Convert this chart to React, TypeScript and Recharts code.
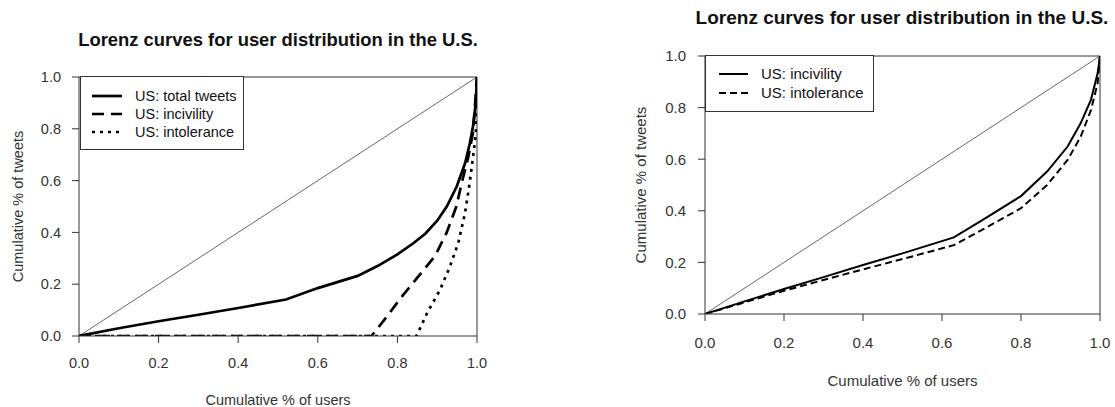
import React from 'react';
import { LineChart, Line, XAxis, YAxis, ReferenceLine, Legend } from 'recharts';

// ---------- data ----------
const tickValues = [0, 0.2, 0.4, 0.6, 0.8, 1.0];
const equalityLine = [
  { x: 0, y: 0 },
  { x: 1, y: 1 },
];

const chartTitle = 'Lorenz curves for user distribution in the U.S.';
const xAxisTitle = 'Cumulative % of users';
const yAxisTitle = 'Cumulative % of tweets';

// left panel
const leftTotalTweets = [
  { x: 0, y: 0 }, { x: 0.1, y: 0.03 }, { x: 0.2, y: 0.057 }, { x: 0.3, y: 0.082 },
  { x: 0.4, y: 0.108 }, { x: 0.52, y: 0.141 }, { x: 0.6, y: 0.185 }, { x: 0.7, y: 0.232 },
  { x: 0.75, y: 0.27 }, { x: 0.8, y: 0.315 }, { x: 0.84, y: 0.358 }, { x: 0.87, y: 0.395 },
  { x: 0.9, y: 0.445 }, { x: 0.924, y: 0.5 }, { x: 0.949, y: 0.577 }, { x: 0.97, y: 0.667 },
  { x: 0.982, y: 0.744 }, { x: 0.99, y: 0.81 }, { x: 0.997, y: 0.9 }, { x: 1, y: 1 },
];
const leftIncivility = [
  { x: 0, y: 0 }, { x: 0.735, y: 0 }, { x: 0.77, y: 0.068 }, { x: 0.81, y: 0.15 },
  { x: 0.85, y: 0.225 }, { x: 0.895, y: 0.31 }, { x: 0.924, y: 0.4 }, { x: 0.948, y: 0.5 },
  { x: 0.963, y: 0.6 }, { x: 0.978, y: 0.69 }, { x: 0.99, y: 0.785 }, { x: 1, y: 1 },
];
const leftIntolerance = [
  { x: 0, y: 0 }, { x: 0.848, y: 0 }, { x: 0.875, y: 0.09 }, { x: 0.907, y: 0.178 },
  { x: 0.932, y: 0.268 }, { x: 0.953, y: 0.36 }, { x: 0.97, y: 0.475 }, { x: 0.981, y: 0.585 },
  { x: 0.99, y: 0.69 }, { x: 0.997, y: 0.78 }, { x: 1, y: 1 },
];

// right panel
const rightIncivility = [
  { x: 0, y: 0 }, { x: 0.1, y: 0.049 }, { x: 0.2, y: 0.097 }, { x: 0.3, y: 0.143 },
  { x: 0.4, y: 0.19 }, { x: 0.5, y: 0.235 }, { x: 0.63, y: 0.297 }, { x: 0.7, y: 0.362 },
  { x: 0.8, y: 0.457 }, { x: 0.866, y: 0.552 }, { x: 0.918, y: 0.649 },
  { x: 0.951, y: 0.739 }, { x: 0.977, y: 0.83 }, { x: 0.994, y: 0.933 }, { x: 1, y: 1 },
];
const rightIntolerance = [
  { x: 0, y: 0 }, { x: 0.1, y: 0.045 }, { x: 0.2, y: 0.09 }, { x: 0.3, y: 0.132 },
  { x: 0.4, y: 0.173 }, { x: 0.5, y: 0.213 }, { x: 0.63, y: 0.267 }, { x: 0.7, y: 0.325 },
  { x: 0.8, y: 0.41 }, { x: 0.866, y: 0.5 }, { x: 0.918, y: 0.597 },
  { x: 0.951, y: 0.687 }, { x: 0.977, y: 0.79 }, { x: 0.994, y: 0.894 }, { x: 1, y: 1 },
];

const FONT = '"Liberation Sans", Arial, Helvetica, sans-serif';
const AXIS = '#333';

type Series = { name: string; data: { x: number; y: number }[]; width: number; dash?: string };

type PanelProps = {
  left: number;
  width: number;
  height: number;
  plotLeft: number;
  plotTop: number;
  plotRight: number;
  plotBottom: number;
  series: Series[];
  fontSize: number;
  xTickMargin: number;
  yTickMargin: number;
  xTitleOffset: number;
  yTitleOffset: number;
  legend: {
    left: number; top: number; width: number; height: number;
    padTop: number; padLeft: number; rowH: number; sampleW: number; gap: number;
  };
};

const LegendBox = ({ series, cfg, fontSize }: { series: Series[]; cfg: PanelProps['legend']; fontSize: number }) => (
  <div
    style={{
      border: `1px solid ${AXIS}`,
      background: '#fff',
      width: cfg.width,
      height: cfg.height,
      boxSizing: 'border-box',
      paddingTop: cfg.padTop,
      paddingLeft: cfg.padLeft,
      fontFamily: FONT,
      fontSize,
      color: '#111',
    }}
  >
    {series.map((s) => (
      <div key={s.name} style={{ display: 'flex', alignItems: 'center', height: cfg.rowH, whiteSpace: 'nowrap' }}>
        <svg width={cfg.sampleW} height={10} style={{ display: 'block' }}>
          <line x1={0} y1={5} x2={cfg.sampleW} y2={5} stroke="#000" strokeWidth={s.width} strokeDasharray={s.dash} />
        </svg>
        <span style={{ marginLeft: cfg.gap }}>{s.name}</span>
      </div>
    ))}
  </div>
);

const Panel = (p: PanelProps) => {
  const tick = { fill: AXIS, fontSize: p.fontSize, fontFamily: FONT };
  return (
    <div style={{ position: 'absolute', left: p.left, top: 0, width: p.width, height: p.height }}>
      <LineChart
        width={p.width}
        height={p.height}
        margin={{ top: p.plotTop, right: p.width - p.plotRight, bottom: 0, left: 0 }}
      >
        <XAxis
          type="number"
          dataKey="x"
          domain={[0, 1]}
          ticks={tickValues}
          interval={0}
          tickFormatter={(v: number) => v.toFixed(1)}
          tickSize={7}
          tickMargin={p.xTickMargin}
          height={p.height - p.plotBottom}
          stroke={AXIS}
          tick={tick}
          allowDataOverflow
          label={{ value: xAxisTitle, position: 'insideBottom', offset: p.xTitleOffset, fill: AXIS, fontSize: p.fontSize, fontFamily: FONT }}
        />
        <YAxis
          type="number"
          dataKey="y"
          domain={[0, 1]}
          ticks={tickValues}
          interval={0}
          tickFormatter={(v: number) => v.toFixed(1)}
          tickSize={7}
          tickMargin={p.yTickMargin}
          width={p.plotLeft}
          stroke={AXIS}
          tick={tick}
          allowDataOverflow
          label={{
            value: yAxisTitle,
            angle: -90,
            position: 'insideLeft',
            offset: p.yTitleOffset,
            fill: AXIS,
            fontSize: p.fontSize,
            fontFamily: FONT,
            style: { textAnchor: 'middle' },
          }}
        />
        <ReferenceLine y={1} stroke={AXIS} strokeWidth={1} />
        <ReferenceLine x={1} stroke={AXIS} strokeWidth={1} />
        <Line
          data={equalityLine}
          dataKey="y"
          type="linear"
          stroke="#666"
          strokeWidth={1}
          dot={false}
          activeDot={false}
          legendType="none"
          isAnimationActive={false}
        />
        {p.series.map((s) => (
          <Line
            key={s.name}
            name={s.name}
            data={s.data}
            dataKey="y"
            type="linear"
            stroke="#000"
            strokeWidth={s.width}
            strokeDasharray={s.dash}
            dot={false}
            activeDot={false}
            isAnimationActive={false}
          />
        ))}
        <Legend
          layout="vertical"
          align="center"
          verticalAlign="middle"
          wrapperStyle={{ left: p.legend.left, top: p.legend.top, width: p.legend.width, height: p.legend.height, margin: 0 }}
          content={() => <LegendBox series={p.series} cfg={p.legend} fontSize={p.fontSize} />}
        />
      </LineChart>
    </div>
  );
};

export default function App() {
  return (
    <div style={{ position: 'absolute', left: 0, top: 0, width: 1115, height: 407, background: '#fff', overflow: 'hidden' }}>
      <Panel
        left={0}
        width={560}
        height={407}
        plotLeft={79}
        plotTop={77}
        plotRight={477}
        plotBottom={336}
        fontSize={14.5}
        xTickMargin={15}
        yTickMargin={11}
        xTitleOffset={2}
        yTitleOffset={17.5}
        series={[
          { name: 'US: total tweets', data: leftTotalTweets, width: 2.7 },
          { name: 'US: incivility', data: leftIncivility, width: 2.7, dash: '12 7' },
          { name: 'US: intolerance', data: leftIntolerance, width: 2.7, dash: '3 5' },
        ]}
        legend={{ left: 80, top: 76, width: 164, height: 74, padTop: 10, padLeft: 11, rowH: 18, sampleW: 30, gap: 13 }}
      />
      <Panel
        left={560}
        width={555}
        height={407}
        plotLeft={145}
        plotTop={56}
        plotRight={540}
        plotBottom={314}
        fontSize={15}
        xTickMargin={16.5}
        yTickMargin={12}
        xTitleOffset={21}
        yTitleOffset={81}
        series={[
          { name: 'US: incivility', data: rightIncivility, width: 2 },
          { name: 'US: intolerance', data: rightIntolerance, width: 2, dash: '7 4' },
        ]}
        legend={{ left: 145, top: 55, width: 169, height: 57, padTop: 8, padLeft: 13, rowH: 19, sampleW: 29, gap: 13 }}
      />
      <svg width={1115} height={407} style={{ position: 'absolute', left: 0, top: 0, pointerEvents: 'none' }}>
        <text x={278} y={46} textAnchor="middle" fontFamily={FONT} fontWeight="bold" fontSize={18.4} fill="#111">
          {chartTitle}
        </text>
        <text x={902} y={24} textAnchor="middle" fontFamily={FONT} fontWeight="bold" fontSize={19} fill="#111">
          {chartTitle}
        </text>
      </svg>
    </div>
  );
}
